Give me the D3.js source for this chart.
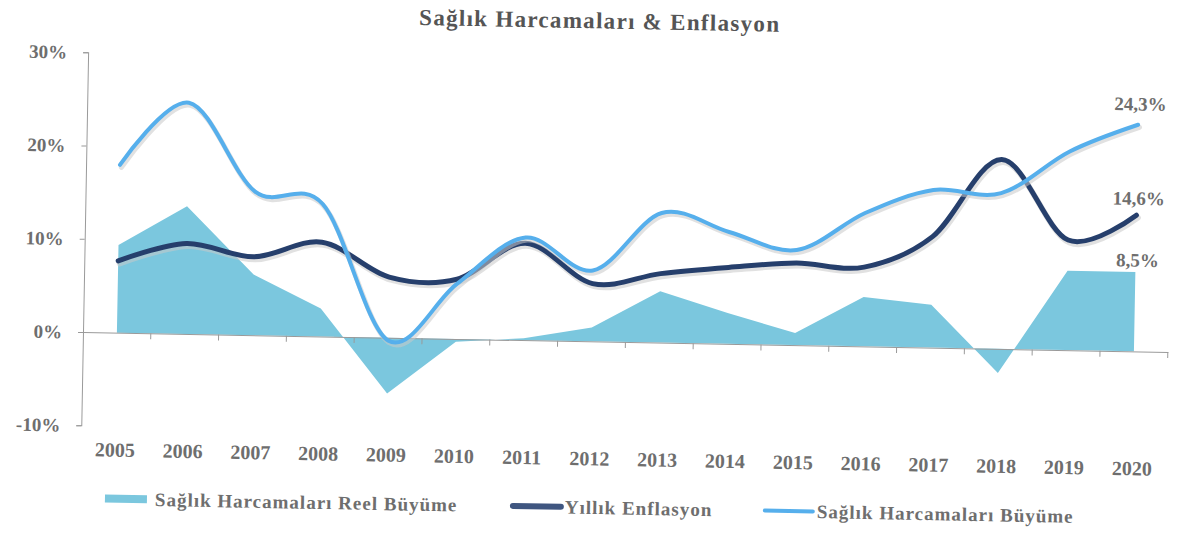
<!DOCTYPE html>
<html><head><meta charset="utf-8">
<script src="https://cdn.jsdelivr.net/npm/d3@7"></script>
<style>
html,body{margin:0;padding:0;background:#fff;}
svg{display:block;}
text{font-family:"Liberation Serif","Times New Roman",serif;font-weight:bold;}
</style></head>
<body>
<svg id="chart" width="1182" height="535"></svg>
<script>
const years = ["2005","2006","2007","2008","2009","2010","2011","2012","2013","2014","2015","2016","2017","2018","2019","2020"];
const realGrowth = [9.4, 13.7, 6.5, 3.0, -6.0, -0.3, 0.2, 1.5, 5.5, 3.3, 1.3, 5.3, 4.6, -2.6, 8.5, 8.5];
const inflation = [7.7, 9.7, 8.4, 10.1, 6.5, 6.4, 10.4, 6.2, 7.4, 8.2, 8.8, 8.5, 11.9, 20.3, 11.8, 14.6];
const nominalGrowth = [18.0, 24.8, 15.4, 14.2, -0.3, 5.9, 11.0, 7.6, 13.9, 12.0, 10.2, 14.3, 16.9, 16.7, 21.3, 24.3];
const yTicks = [-10, 0, 10, 20, 30];
const endLabels = ["24,3%", "14,6%", "8,5%"];
const legendNames = ["Sağlık Harcamaları Reel Büyüme", "Yıllık Enflasyon", "Sağlık Harcamaları Büyüme"];
const titleText = "Sağlık Harcamaları & Enflasyon";

const colArea = "#7bc7de", colDark = "#263f6c", colLight = "#56afec", colText = "#6e6e6e", colAxis = "#9a9a9a";

const svg = d3.select("#chart");
const g = svg.append("g").attr("transform", "rotate(1.05,83,332)");

const x = d3.scaleBand().domain(years).range([83, 1168]);
const cx = d => x(d) + x.bandwidth() / 2;
const y = d3.scaleLinear().domain([-10, 30]).range([425.3, 52.3]);

// title
g.append("text").attr("x", 594).attr("y", 19).attr("text-anchor", "middle")
  .attr("font-size", 23).attr("fill", "#555").attr("letter-spacing", 1.3).text(titleText);

// area (real growth)
const area = d3.area().x((d, i) => cx(years[i])).y0(y(0)).y1(d => y(d));
g.append("path").datum(realGrowth).attr("d", area).attr("fill", colArea);

// axes
const yAxis = d3.axisLeft(y).tickValues(yTicks).tickSize(5).tickFormat(d => d + "%");
const ya = g.append("g").attr("transform", "translate(83,0)").call(yAxis);
ya.select(".domain").attr("stroke", colAxis);
ya.selectAll(".tick line").attr("stroke", colAxis);
ya.selectAll(".tick text").attr("font-size", 19).attr("fill", colText)
  .attr("font-family", "Liberation Serif").attr("x", -21);

const xAxis = d3.axisBottom(x).tickSize(0).tickSizeOuter(0);
const xa = g.append("g").attr("transform", `translate(0,${y(0)})`).call(xAxis);
xa.select(".domain").attr("stroke", colAxis);
xa.selectAll(".tick text").attr("font-size", 20).attr("fill", colText)
  .attr("font-family", "Liberation Serif").attr("y", 117).attr("dy", "0.35em");
// band boundary ticks
xa.selectAll(".bt").data(years).enter().append("line").attr("class", "bt")
  .attr("x1", d => x(d) + x.step()).attr("x2", d => x(d) + x.step())
  .attr("y1", 0).attr("y2", 6).attr("stroke", colAxis);

// lines
const line = d3.line().x((d, i) => cx(years[i])).y(d => y(d)).curve(d3.curveCardinal.tension(0));
function drawLine(data, col, w) {
  g.append("path").datum(data).attr("d", line).attr("fill", "none")
    .attr("stroke", "#c8c8c8").attr("stroke-width", w + 1).attr("stroke-opacity", 0.55)
    .attr("transform", "translate(1.5,2.5)").attr("stroke-linecap", "round");
  g.append("path").datum(data).attr("d", line).attr("fill", "none")
    .attr("stroke", col).attr("stroke-width", w).attr("stroke-linecap", "round");
}
drawLine(inflation, colDark, 5);
drawLine(nominalGrowth, colLight, 4);

// end labels
const last = years.length - 1;
const lbls = [[nominalGrowth[last], -21], [inflation[last], -17], [realGrowth[last], -12]];
g.selectAll(".endlbl").data(lbls).enter().append("text").attr("class", "endlbl")
  .attr("x", cx(years[last]) + 2).attr("y", d => y(d[0]) + d[1]).attr("dy", "0.35em")
  .attr("text-anchor", "middle").attr("font-size", 19).attr("fill", colText)
  .text((d, i) => endLabels[i]);

// legend
const lg = g.append("g");
const items = [
  {x: 108, type: "area", col: colArea, name: legendNames[0]},
  {x: 516, type: "line", col: "#3f5680", name: legendNames[1]},
  {x: 768, type: "line", col: colLight, name: legendNames[2]}
];
const ly = 498;
items.forEach(it => {
  if (it.type === "area") {
    lg.append("rect").attr("x", it.x).attr("y", ly - 4).attr("width", 42).attr("height", 8).attr("fill", it.col);
  } else {
    lg.append("line").attr("x1", it.x).attr("x2", it.x + 48).attr("y1", ly).attr("y2", ly)
      .attr("stroke", it.col).attr("stroke-width", it.col === colLight ? 4 : 6).attr("stroke-linecap", "round");
  }
  lg.append("text").attr("x", it.x + (it.type === "area" ? 50 : 52)).attr("y", ly).attr("dy", "0.35em")
    .attr("font-size", 19).attr("fill", colText).attr("letter-spacing", 1.0).text(it.name);
});
</script>
</body></html>
